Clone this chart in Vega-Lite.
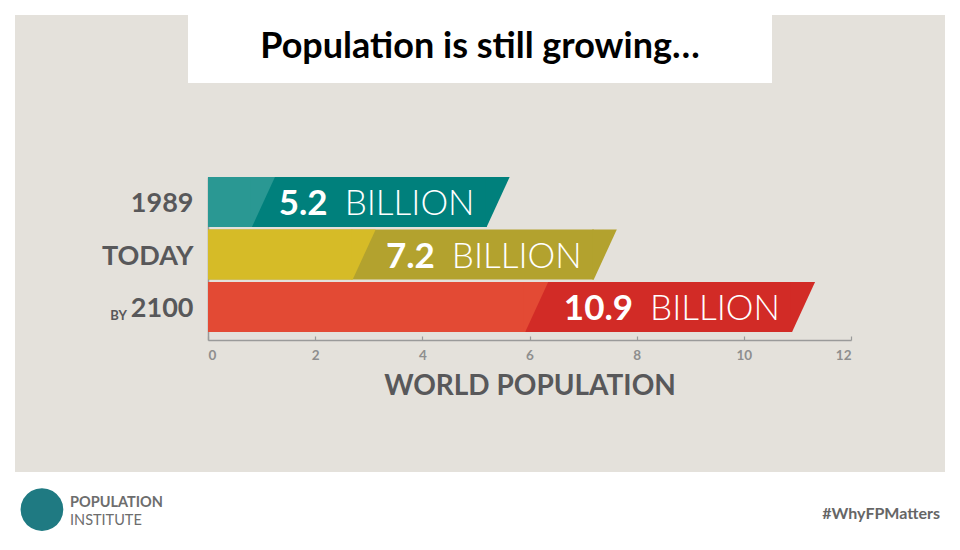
{
  "$schema": "https://vega.github.io/schema/vega-lite/v6.json",
  "background": "#ffffff",
  "padding": {"left": 15, "top": 15, "right": 15, "bottom": 0},
  "config": {"view": {"stroke": null}, "font": "Lato"},
  "spacing": 0,
  "title": {"text": "#WhyFPMatters", "orient": "bottom", "anchor": "end", "offset": -29, "dx": -5, "font": "Lato", "fontSize": 16, "fontWeight": "bold", "color": "#666666"},
  "vconcat": [
    {
      "spacing": 0,
      "hconcat": [
        {"width": 173, "height": 68, "view": {"fill": "#e4e1db", "stroke": null}, "data": {"values": [{}]}, "mark": {"type": "text"}, "encoding": {"text": {"value": ""}}},
        {"width": 584, "height": 68, "view": {"fill": "#ffffff", "stroke": null}, "data": {"values": [{"t": "Population is still growing…"}]}, "mark": {"type": "text", "font": "Lato", "fontSize": 36, "fontWeight": "bold", "color": "#000000", "dy": -2}, "encoding": {"text": {"field": "t", "type": "nominal"}}},
        {"width": 173, "height": 68, "view": {"fill": "#e4e1db", "stroke": null}, "data": {"values": [{}]}, "mark": {"type": "text"}, "encoding": {"text": {"value": ""}}}
      ]
    },
    {
      "title": {"text": "●", "orient": "bottom", "anchor": "start", "offset": -47, "dx": 2.5, "font": "DejaVu Sans", "fontSize": 56, "fontWeight": "normal", "color": "#1f7a82"},
      "spacing": 0,
      "vconcat": [
        {
          "width": 930,
          "height": 389,
          "view": {"fill": "#e4e1db", "stroke": null},
          "title": {"text": "POPULATION", "subtitle": "INSTITUTE", "orient": "bottom", "anchor": "start", "offset": 24, "dx": 55, "font": "Lato", "fontSize": 14.5, "fontWeight": "bold", "color": "#6d6d6d", "subtitleFont": "Lato", "subtitleFontSize": 14.5, "subtitleColor": "#6d6d6d", "subtitlePadding": 3},
          "data": {"values": [
            {"year": "1989", "value": 5.2, "split": 0.82},
            {"year": "TODAY", "value": 7.2, "split": 2.7},
            {"year": "2100", "value": 10.9, "split": 5.92}
          ]},
          "encoding": {
            "y": {"field": "year", "type": "nominal", "sort": ["1989", "TODAY", "2100"],
              "scale": {"domain": ["1989", "TODAY", "2100"], "range": [94, 257], "paddingInner": 0.0476, "paddingOuter": 0.076, "align": 0},
              "axis": {"orient": "left", "offset": -193, "title": null, "ticks": false, "domainColor": "#9a9a9a", "domainWidth": 1.5, "labelFont": "Lato", "labelFontSize": 27, "labelFontWeight": "bold", "labelColor": "#58585a", "labelPadding": 15, "labelOffset": 2}}
          },
          "resolve": {"scale": {"color": "independent"}},
          "layer": [
            {
              "mark": {"type": "bar"},
              "encoding": {
                "x": {"field": "value", "type": "quantitative", "title": "WORLD POPULATION", "scale": {"domain": [0, 12], "range": [193, 836]},
                  "axis": {"orient": "bottom", "offset": -132, "values": [0, 2, 4, 6, 8, 10, 12], "format": "d", "grid": false, "domainColor": "#9a9a9a", "domainWidth": 1.5, "tickColor": "#9a9a9a", "tickSize": -4, "tickWidth": 1.2, "labelFont": "Lato", "labelFontSize": 13.5, "labelFontWeight": "bold", "labelColor": "#8e8e8e", "labelPadding": 12, "titleFont": "Lato", "titleFontSize": 28, "titleFontWeight": "bold", "titleColor": "#58585a", "titlePadding": 11}},
                "color": {"field": "year", "type": "nominal", "scale": {"domain": ["1989", "TODAY", "2100"], "range": ["#00807c", "#b3a22e", "#d22b26"]}, "legend": null}
              }
            },
            {
              "mark": {"type": "point", "shape": "M-0.06,-1L0.92,-1L0,1L-0.06,1Z", "size": 2500, "filled": true, "opacity": 1, "strokeWidth": 0},
              "encoding": {
                "x": {"field": "value", "type": "quantitative", "title": "WORLD POPULATION"},
                "color": {"field": "year", "type": "nominal", "scale": {"domain": ["1989", "TODAY", "2100"], "range": ["#00807c", "#b3a22e", "#d22b26"]}, "legend": null}
              }
            },
            {
              "mark": {"type": "bar"},
              "encoding": {
                "x": {"field": "split", "type": "quantitative", "title": "WORLD POPULATION"},
                "color": {"field": "year", "type": "nominal", "scale": {"domain": ["1989", "TODAY", "2100"], "range": ["#2a9893", "#d6bb27", "#e34a34"]}, "legend": null}
              }
            },
            {
              "mark": {"type": "point", "shape": "M-0.06,-1L0.92,-1L0,1L-0.06,1Z", "size": 2500, "filled": true, "opacity": 1, "strokeWidth": 0},
              "encoding": {
                "x": {"field": "split", "type": "quantitative", "title": "WORLD POPULATION"},
                "color": {"field": "year", "type": "nominal", "scale": {"domain": ["1989", "TODAY", "2100"], "range": ["#2a9893", "#d6bb27", "#e34a34"]}, "legend": null}
              }
            },
            {
              "mark": {"type": "text", "align": "right", "baseline": "middle", "dx": -159, "dy": 2, "font": "Lato", "fontSize": 35, "fontWeight": "bold", "color": "#ffffff"},
              "encoding": {
                "x": {"field": "value", "type": "quantitative", "title": "WORLD POPULATION"},
                "text": {"field": "value", "type": "quantitative", "format": ".1f"}
              }
            },
            {
              "mark": {"type": "text", "align": "left", "baseline": "middle", "dx": -142, "dy": 2, "font": "Lato", "fontSize": 35, "fontWeight": 300, "color": "#ffffff"},
              "encoding": {
                "x": {"field": "value", "type": "quantitative", "title": "WORLD POPULATION"},
                "text": {"value": "BILLION"}
              }
            },
            {
              "transform": [{"filter": "datum.year === '2100'"}],
              "mark": {"type": "text", "align": "right", "baseline": "middle", "dx": -81, "dy": 9, "font": "Lato", "fontSize": 13, "fontWeight": "bold", "color": "#58585a"},
              "encoding": {
                "x": {"datum": 0, "type": "quantitative", "title": "WORLD POPULATION"},
                "text": {"value": "BY"}
              }
            }
          ]
        }
      ]
    }
  ]
}
